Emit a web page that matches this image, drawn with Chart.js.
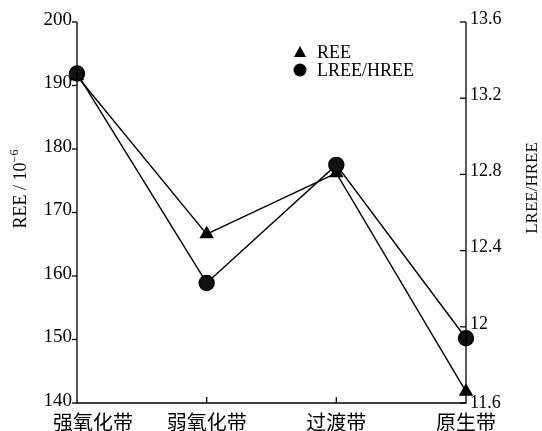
<!DOCTYPE html>
<html>
<head>
<meta charset="utf-8">
<script src="https://cdn.jsdelivr.net/npm/chart.js@4/dist/chart.umd.min.js"></script>
<style>
html,body{margin:0;padding:0;background:#fff;}
#wrap{position:relative;width:542px;height:431px;}
</style>
</head>
<body>
<div id="wrap"><canvas id="c" width="542" height="431"></canvas></div>
<script>
const categories = ['强氧化带', '弱氧化带', '过渡带', '原生带'];
const reeValues = [191.5, 166.6, 176.2, 141.8];
const ratioValues = [13.33, 12.23, 12.85, 11.94];
const leftTicks = [140, 150, 160, 170, 180, 190, 200];
const rightTicks = [11.6, 12.0, 12.4, 12.8, 13.2, 13.6];
const rightTickLabels = ['11.6', '12', '12.4', '12.8', '13.2', '13.6'];

const SERIF = '"Liberation Serif", "Times New Roman", serif';
const CJK = '"Noto Sans CJK SC", sans-serif';

const overlay = {
  id: 'overlay',
  afterDraw(chart) {
    const ctx = chart.ctx;
    const x = chart.scales.x, yL = chart.scales.yL, yR = chart.scales.yR;
    const area = chart.chartArea;
    ctx.save();
    ctx.strokeStyle = '#000';
    ctx.lineWidth = 1.3;
    // axis lines
    ctx.beginPath();
    ctx.moveTo(area.left, area.top); ctx.lineTo(area.left, area.bottom);
    ctx.lineTo(area.right, area.bottom); ctx.lineTo(area.right, area.top);
    ctx.stroke();
    // left ticks (outward)
    ctx.fillStyle = '#000';
    ctx.font = '19px ' + SERIF;
    ctx.textAlign = 'right'; ctx.textBaseline = 'middle';
    leftTicks.forEach(v => {
      const py = yL.getPixelForValue(v);
      ctx.beginPath(); ctx.moveTo(area.left - 5, py); ctx.lineTo(area.left, py); ctx.stroke();
      ctx.fillText(String(v), area.left - 5, py - 2);
    });
    // right ticks (inward)
    ctx.font = '18px ' + SERIF;
    ctx.textAlign = 'left';
    rightTicks.forEach((v, i) => {
      const py = yR.getPixelForValue(v);
      ctx.beginPath(); ctx.moveTo(area.right - 6, py); ctx.lineTo(area.right, py); ctx.stroke();
      ctx.fillText(rightTickLabels[i], area.right + 4, py + (i === 0 ? 0 : -3));
    });
    // x ticks (inward) and labels
    ctx.font = '20px ' + CJK;
    ctx.textBaseline = 'middle';
    categories.forEach((c, i) => {
      const px = x.getPixelForValue(i);
      if (i > 0 && i < categories.length - 1) {
        ctx.beginPath(); ctx.moveTo(px, area.bottom); ctx.lineTo(px, area.bottom - 6); ctx.stroke();
      }
      let tx = px;
      if (i === 0) { ctx.textAlign = 'left'; tx = px - 24; }
      else { ctx.textAlign = 'center'; }
      ctx.fillText(c, tx, area.bottom + 19);
    });
    // left title
    ctx.save();
    ctx.translate(21, 189);
    ctx.rotate(-Math.PI / 2);
    const main = 'REE / 10';
    ctx.font = '18px ' + SERIF;
    const wMain = ctx.measureText(main).width;
    ctx.font = '12px ' + SERIF;
    const sup = '\u22126';
    const wSup = ctx.measureText(sup).width;
    const total = wMain + wSup;
    ctx.textAlign = 'left'; ctx.textBaseline = 'middle';
    ctx.font = '18px ' + SERIF;
    ctx.fillText(main, -total / 2, 0);
    ctx.font = '12px ' + SERIF;
    ctx.fillText(sup, -total / 2 + wMain, -6);
    ctx.restore();
    // right title
    ctx.save();
    ctx.translate(533, 188);
    ctx.rotate(-Math.PI / 2);
    ctx.font = '17px ' + SERIF;
    ctx.textAlign = 'center'; ctx.textBaseline = 'middle';
    ctx.fillText('LREE/HREE', 0, 0);
    ctx.restore();
    // legend
    ctx.font = '18px ' + SERIF;
    ctx.textAlign = 'left'; ctx.textBaseline = 'middle';
    chart.data.datasets.forEach((ds, i) => {
      const ly = 52 + i * 18;
      const lx = 300;
      ctx.beginPath();
      if (ds.pointStyle === 'triangle') {
        ctx.moveTo(lx, ly - 6); ctx.lineTo(lx + 6, ly + 5); ctx.lineTo(lx - 6, ly + 5); ctx.closePath();
      } else {
        ctx.arc(lx, ly, 6.5, 0, Math.PI * 2);
      }
      ctx.fill();
      ctx.fillText(ds.label, lx + 17, ly + 1);
    });
    ctx.restore();
  }
};

new Chart(document.getElementById('c'), {
  type: 'line',
  data: {
    labels: categories,
    datasets: [
      {
        label: 'REE', data: reeValues, yAxisID: 'yL',
        borderColor: '#000', backgroundColor: '#000', borderWidth: 1.4,
        pointStyle: 'triangle', pointRadius: 7, pointBackgroundColor: '#000', pointBorderColor: '#000',
        tension: 0, order: 2
      },
      {
        label: 'LREE/HREE', data: ratioValues, yAxisID: 'yR',
        borderColor: '#000', backgroundColor: '#000', borderWidth: 1.4,
        pointStyle: 'circle', pointRadius: 7.5, pointBackgroundColor: '#111', pointBorderColor: '#000',
        tension: 0, order: 1
      }
    ]
  },
  options: {
    responsive: false,
    animation: false,
    layout: { padding: { top: 22, left: 0, right: 0, bottom: 0 } },
    plugins: { legend: { display: false }, tooltip: { enabled: false } },
    scales: {
      x: {
        type: 'category', offset: false,
        grid: { display: false, drawTicks: false }, border: { display: false },
        ticks: { display: false },
        afterFit(s) { s.height = 28; }
      },
      yL: {
        position: 'left', min: 140, max: 200,
        grid: { display: false, drawTicks: false }, border: { display: false },
        ticks: { display: false, stepSize: 10 },
        afterFit(s) { s.width = 77; }
      },
      yR: {
        position: 'right', min: 11.6, max: 13.6,
        grid: { display: false, drawTicks: false }, border: { display: false },
        ticks: { display: false, stepSize: 0.4 },
        afterFit(s) { s.width = 76; }
      }
    }
  },
  plugins: [overlay]
});
</script>
</body>
</html>
